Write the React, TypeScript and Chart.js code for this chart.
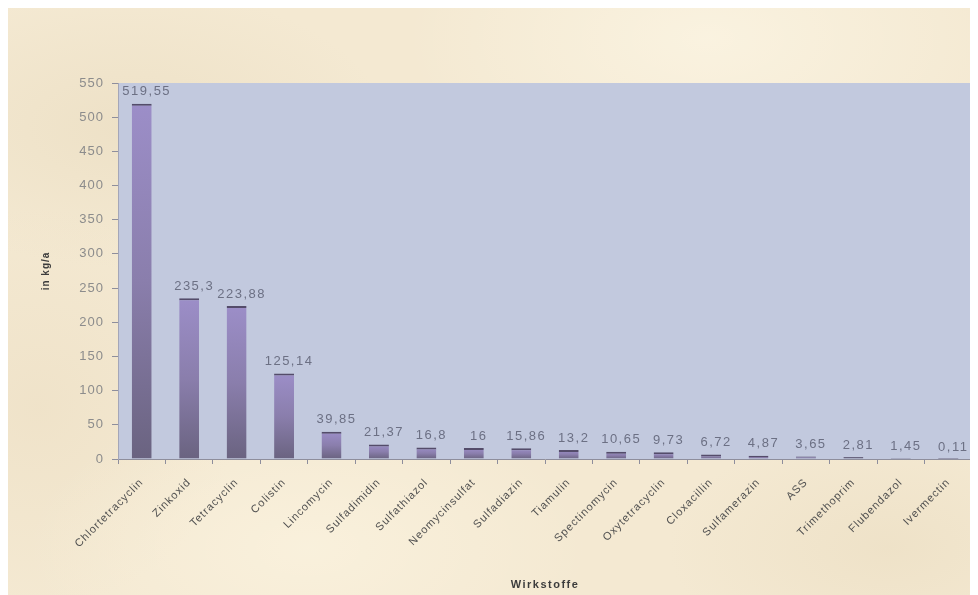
import React, { useEffect, useRef } from "react";
import { Chart, registerables } from "chart.js";

Chart.register(...registerables);

// Wirkstoffe und Mengen (kg/a)
const categories: string[] = [
  "Chlortetracyclin",
  "Zinkoxid",
  "Tetracyclin",
  "Colistin",
  "Lincomycin",
  "Sulfadimidin",
  "Sulfathiazol",
  "Neomycinsulfat",
  "Sulfadiazin",
  "Tiamulin",
  "Spectinomycin",
  "Oxytetracyclin",
  "Cloxacillin",
  "Sulfamerazin",
  "ASS",
  "Trimethoprim",
  "Flubendazol",
  "Ivermectin",
];

const amounts: number[] = [
  519.55, 235.3, 223.88, 125.14, 39.85, 21.37, 16.8, 16, 15.86, 13.2, 10.65,
  9.73, 6.72, 4.87, 3.65, 2.81, 1.45, 0.11,
];

const yTicks: number[] = [0, 50, 100, 150, 200, 250, 300, 350, 400, 450, 500, 550];

const yTitle = "in kg/a";
const xTitle = "Wirkstoffe";

const FONT = "'Liberation Sans', Arial, sans-serif";

const formatDe = (v: number) => String(v).replace(".", ",");

const plotBackground = {
  id: "plotBackground",
  beforeDraw(chart: any) {
    const { ctx, chartArea } = chart;
    ctx.letterSpacing = "1px";
    ctx.save();
    ctx.fillStyle = "#c2c9de";
    ctx.fillRect(
      chartArea.left,
      chartArea.top,
      chartArea.right - chartArea.left,
      chartArea.bottom - chartArea.top
    );
    ctx.restore();
  },
};

const valueLabels = {
  id: "valueLabels",
  afterDatasetsDraw(chart: any) {
    const { ctx } = chart;
    const meta = chart.getDatasetMeta(0);
    const data = chart.data.datasets[0].data as number[];
    ctx.save();
    ctx.letterSpacing = "1.5px";
    ctx.font = `13px ${FONT}`;
    ctx.fillStyle = "#6c7084";
    ctx.textAlign = "center";
    ctx.textBaseline = "middle";
    meta.data.forEach((bar: any, i: number) => {
      ctx.fillText(formatDe(data[i]), bar.x + 5, bar.y - 12);
    });
    ctx.restore();
  },
};

const axisTitles = {
  id: "axisTitles",
  afterDraw(chart: any) {
    const { ctx, chartArea } = chart;
    ctx.save();
    ctx.fillStyle = "#3c3c3c";
    ctx.textAlign = "center";
    ctx.textBaseline = "middle";
    ctx.letterSpacing = "1.5px";
    ctx.font = `bold 11px ${FONT}`;
    ctx.fillText(xTitle, (chartArea.left + chartArea.right) / 2, 577);
    ctx.translate(38, (chartArea.top + chartArea.bottom) / 2);
    ctx.rotate(-Math.PI / 2);
    ctx.letterSpacing = "1px";
    ctx.font = `bold 10px ${FONT}`;
    ctx.fillText(yTitle, 0, 0);
    ctx.restore();
  },
};

export default function App() {
  const canvasRef = useRef<HTMLCanvasElement | null>(null);

  useEffect(() => {
    if (!canvasRef.current) return;

    const barFill = (c: any) => {
      const chart = c.chart;
      const y = chart.scales?.y;
      if (!y || c.type !== "data") return "#8a7cae";
      const top = y.getPixelForValue(c.raw);
      const base = y.getPixelForValue(0);
      if (!isFinite(top) || !isFinite(base) || base - top < 2) return "#5e5872";
      const g = chart.ctx.createLinearGradient(0, top, 0, base);
      g.addColorStop(0, "#9c8ec8");
      g.addColorStop(0.5, "#8a7eac");
      g.addColorStop(1, "#6a6380");
      return g;
    };

    const chart = new Chart(canvasRef.current, {
      type: "bar",
      data: {
        labels: categories,
        datasets: [
          {
            data: amounts,
            backgroundColor: barFill,
            borderColor: "#544c6a",
            borderWidth: { top: 2, left: 0, right: 0, bottom: 0 },
            borderSkipped: "bottom",
            barPercentage: 0.42,
            categoryPercentage: 1,
          },
        ],
      },
      options: {
        animation: false,
        responsive: false,
        layout: { padding: { top: 75, right: 6, left: 0, bottom: 0 } },
        plugins: {
          legend: { display: false },
          tooltip: { enabled: false },
        },
        scales: {
          x: {
            offset: true,
            grid: {
              offset: true,
              drawOnChartArea: false,
              drawTicks: true,
              tickLength: 5,
              color: "#8e8e9c",
            },
            border: { display: true, color: "#8e8e9c" },
            ticks: {
              minRotation: 45,
              maxRotation: 45,
              autoSkip: false,
              padding: 12,
              color: "#505050",
              font: { family: FONT, size: 11 },
            },
            afterFit: (s: any) => {
              s.height = 136;
            },
          },
          y: {
            min: 0,
            max: 550,
            afterBuildTicks: (s: any) => {
              s.ticks = yTicks.map((v) => ({ value: v }));
            },
            grid: {
              drawOnChartArea: false,
              drawTicks: true,
              tickLength: 6,
              color: "#8e8e9c",
            },
            border: { display: true, color: "#a4a6b8" },
            ticks: {
              padding: 8,
              color: "#8c8c8c",
              font: { family: FONT, size: 13 },
            },
            afterFit: (s: any) => {
              s.width = 110;
            },
          },
        },
      },
      plugins: [plotBackground, valueLabels, axisTitles],
    });

    return () => chart.destroy();
  }, []);

  return (
    <div
      style={{
        width: 970,
        height: 587,
        background:
          "radial-gradient(ellipse 260px 140px at 120px 120px, rgba(222,206,172,0.3), transparent)," +
          "radial-gradient(ellipse 300px 160px at 700px 30px, rgba(255,250,235,0.55), transparent)," +
          "radial-gradient(ellipse 220px 120px at 880px 540px, rgba(222,205,170,0.25), transparent)," +
          "radial-gradient(ellipse 280px 150px at 300px 540px, rgba(255,248,230,0.5), transparent)," +
          "radial-gradient(ellipse 200px 200px at 30px 400px, rgba(226,208,175,0.25), transparent)," +
          "#f4e9d2",
      }}
    >
      <canvas ref={canvasRef} width={970} height={587} style={{ display: "block" }} />
    </div>
  );
}
